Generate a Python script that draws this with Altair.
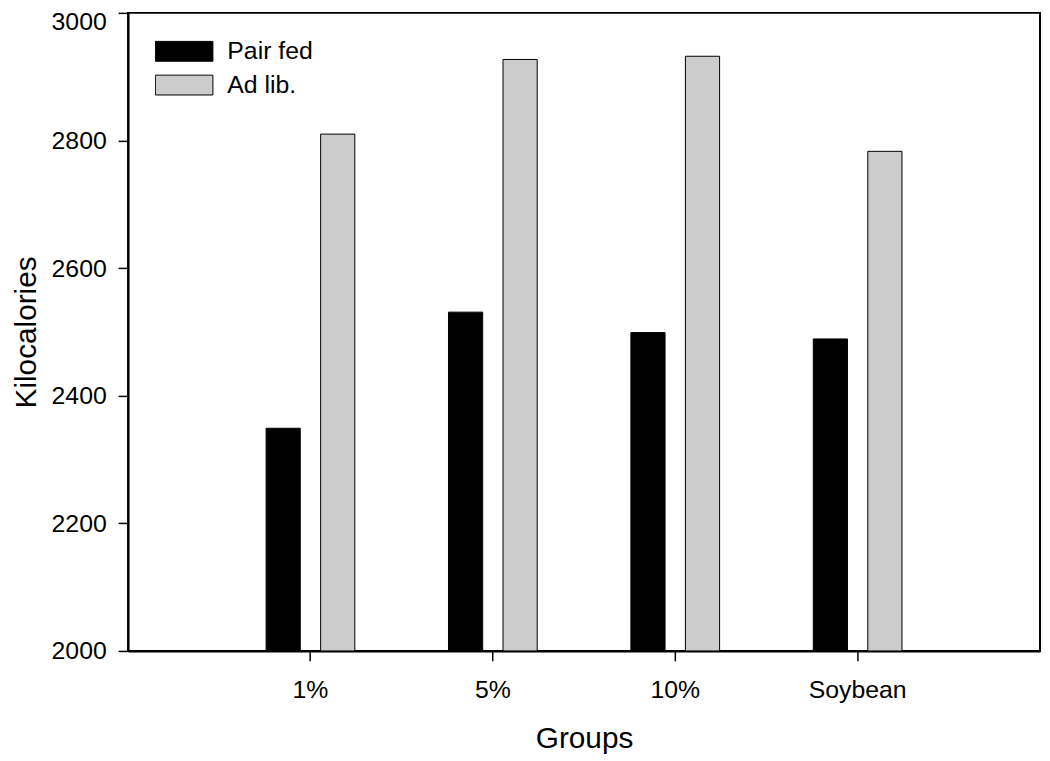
import altair as alt
import pandas as pd

groups = ["1%", "5%", "10%", "Soybean"]
series = ["Pair fed", "Ad lib."]
pair_fed = [2349, 2531, 2499, 2489]
ad_lib = [2810, 2927, 2932, 2783]
y_ticks = [2000, 2200, 2400, 2600, 2800, 3000]
colors = ["#000000", "#cccccc"]

rows = []
for g, p, a in zip(groups, pair_fed, ad_lib):
    rows.append({"Group": g, "Series": series[0], "Kcal": p})
    rows.append({"Group": g, "Series": series[1], "Kcal": a})
df = pd.DataFrame(rows)

FONT = "Liberation Sans"
W, H = 919, 643

chart = alt.Chart(df).mark_bar(stroke="black", strokeWidth=1).encode(
    x=alt.X(
        "Group:N", sort=groups,
        scale=alt.Scale(paddingInner=0, paddingOuter=0.5),
        axis=alt.Axis(
            title="Groups", labelAngle=0, labelBaseline="alphabetic",
            labelPadding=37, tickSize=10, titleBaseline="alphabetic",
            titleX=W / 2, titleY=97,
        ),
    ),
    xOffset=alt.XOffset(
        "Series:N", sort=series,
        scale=alt.Scale(paddingInner=0.373, paddingOuter=0.859),
    ),
    y=alt.Y(
        "Kcal:Q",
        scale=alt.Scale(domain=[2000, 3000], nice=False, zero=False),
        axis=alt.Axis(
            values=y_ticks, format="d", title="Kilocalories", tickSize=10,
            labelPadding=12,
            labelOffset=alt.condition("datum.value == 3000", alt.value(9), alt.value(0)),
            titleBaseline="alphabetic", titleX=-93, titleY=H / 2, titleAngle=270,
        ),
    ),
    y2=alt.datum(2000),
    color=alt.Color(
        "Series:N", sort=series,
        scale=alt.Scale(domain=series, range=colors),
        legend=alt.Legend(
            title=None, orient="none", legendX=27, legendY=22,
            symbolType="M-1,-0.345H1V0.345H-1Z", symbolSize=3364,
            symbolStrokeColor="black", symbolStrokeWidth=1, symbolOpacity=1,
            labelOffset=14, rowPadding=0, clipHeight=33.5, padding=0,
        ),
    ),
).properties(
    width=W, height=H,
    autosize=alt.AutoSizeParams(type="none"),
    padding={"left": 121, "top": 2, "right": 2, "bottom": 108},
).configure_view(
    stroke="black", strokeWidth=2,
).configure_axis(
    grid=False, domainColor="black", domainWidth=2, tickColor="black",
    tickWidth=1.5, labelFont=FONT, labelFontSize=25, labelColor="black",
    titleFont=FONT, titleFontSize=30, titleFontWeight="normal", titleColor="black",
).configure_legend(
    labelFont=FONT, labelFontSize=25, labelColor="black",
)

chart.save("out.html", embed_options={"renderer": "svg", "actions": False})
